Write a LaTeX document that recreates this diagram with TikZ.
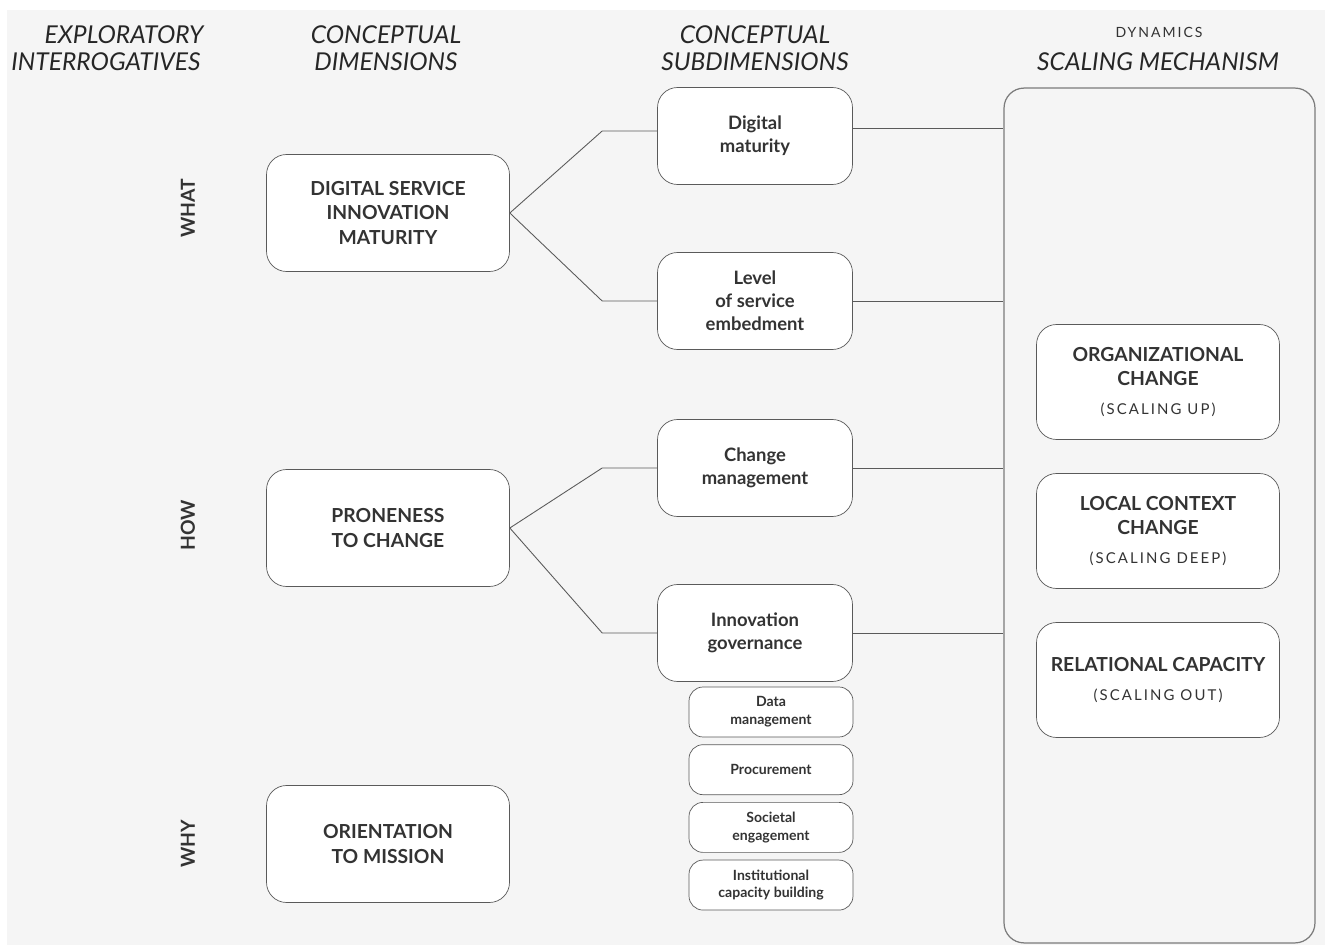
\documentclass[tikz,border=0pt]{standalone}
\usepackage{fontspec}
\setmainfont{Lato}
\usepackage{xcolor}
\usepackage{tikz}
\usetikzlibrary{positioning}

\definecolor{bggray}{HTML}{F5F5F5}
\definecolor{edgegray}{HTML}{5A5A5A}
\newcommand{\spaced}{\addfontfeatures{LetterSpace=14}}

\begin{document}
\begin{tikzpicture}[
  x=0.02cm, y=-0.02cm,
  node distance=0.14cm,
  head/.style={font=\fontsize{14}{15.4}\selectfont\itshape, align=center, text=black!85},
  dimbox/.style={draw=edgegray, fill=white, rounded corners=0.4cm, minimum width=4.86cm,
                 minimum height=2.34cm, align=center, font=\fontsize{11}{13.8}\selectfont\bfseries,
                 text=black!80},
  subbox/.style={draw=edgegray, fill=white, rounded corners=0.4cm, minimum width=3.9cm,
                 minimum height=1.94cm, align=center, font=\fontsize{10.5}{13.2}\selectfont\bfseries,
                 text=black!80},
  minibox/.style={draw=edgegray, fill=white, rounded corners=0.28cm, minimum width=3.28cm,
                  minimum height=1cm, align=center, font=\fontsize{8}{10.2}\selectfont\bfseries,
                  text=black!80, inner sep=1pt},
  mechbox/.style={draw=edgegray, fill=white, rounded corners=0.4cm, minimum width=4.86cm,
                  minimum height=2.3cm, align=center, font=\fontsize{11}{13.8}\selectfont\bfseries,
                  text=black!80},
  tag/.style={rotate=90, font=\fontsize{11}{13}\selectfont\bfseries, text=black!80},
  link/.style={draw=edgegray, line width=0.5pt}
]
\useasboundingbox (0,0) rectangle (1325,945);
\fill[bggray] (7,10) rectangle (1325,945);

% column headings
\node[head] (hq)  at (106,48)  {\hspace*{0.72cm}EXPLORATORY\\INTERROGATIVES};
\node[head] (hd)  at (386,48)  {CONCEPTUAL\\DIMENSIONS};
\node[head] (hs)  at (755,48)  {CONCEPTUAL\\SUBDIMENSIONS};
\node[font=\fontsize{8}{10}\selectfont\spaced, text=black!80] (hdyn) at (1159,32) {DYNAMICS};
\node[head] (hm)  at (1158,62) {SCALING MECHANISM};

% scaling mechanism frame
\node[draw=edgegray!80, line width=0.7pt, fill=bggray, rounded corners=0.4cm,
      minimum width=6.22cm, minimum height=17.1cm] (mech) at (1159.5,515.5) {};

% interrogatives
\node[tag] (what) at (188,208) {WHAT};
\node[tag] (how)  at (188,525) {HOW};
\node[tag] (why)  at (188,844) {WHY};

% dimensions
\node[dimbox] (dsim)   at (388,213) {DIGITAL SERVICE\\INNOVATION\\MATURITY};
\node[dimbox] (prone)  at (388,528) {PRONENESS\\TO CHANGE};
\node[dimbox] (orient) at (388,844) {ORIENTATION\\TO MISSION};

% subdimensions
\node[subbox] (dmat)  at (755,136) {Digital\\maturity};
\node[subbox] (embed) at (755,301) {Level\\of service\\embedment};
\node[subbox] (chmgt) at (755,468) {Change\\management};
\node[subbox] (gov)   at (755,633) {Innovation\\governance};

\node[minibox] (data)  at (771,712) {Data\\management};
\node[minibox, below=of data]  (proc) {Procurement};
\node[minibox, below=of proc]  (soc)  {Societal\\engagement};
\node[minibox, below=of soc]   (inst) {Institutional\\capacity building};

% mechanisms
\node[mechbox] (orgch) at (1158,382) {ORGANIZATIONAL\\CHANGE\\[0.08cm]{\fontsize{8.5}{10}\selectfont\mdseries\spaced (SCALING UP)}};
\node[mechbox] (locch) at (1158,531) {LOCAL CONTEXT\\CHANGE\\[0.08cm]{\fontsize{8.5}{10}\selectfont\mdseries\spaced (SCALING DEEP)}};
\node[mechbox] (relcp) at (1158,680) {RELATIONAL CAPACITY\\[0.08cm]{\fontsize{8.5}{10}\selectfont\mdseries\spaced (SCALING OUT)}};

% branches
\draw[link] (dsim.east)  -- ([xshift=-1.1cm, yshift=0.1cm]dmat.west) -- ([yshift=0.1cm]dmat.west);
\draw[link] (dsim.east)  -- ([xshift=-1.1cm]embed.west) -- (embed.west);
\draw[link] (prone.east) -- ([xshift=-1.1cm]chmgt.west) -- (chmgt.west);
\draw[link] (prone.east) -- ([xshift=-1.1cm]gov.west)   -- (gov.west);

\draw[link] ([yshift=0.16cm]dmat.east) -- ([yshift=0.16cm]dmat.east -| mech.west);
\draw[link] (embed.east) -- (embed.east -| mech.west);
\draw[link] (chmgt.east) -- (chmgt.east -| mech.west);
\draw[link] (gov.east)   -- (gov.east -| mech.west);
\end{tikzpicture}
\end{document}
